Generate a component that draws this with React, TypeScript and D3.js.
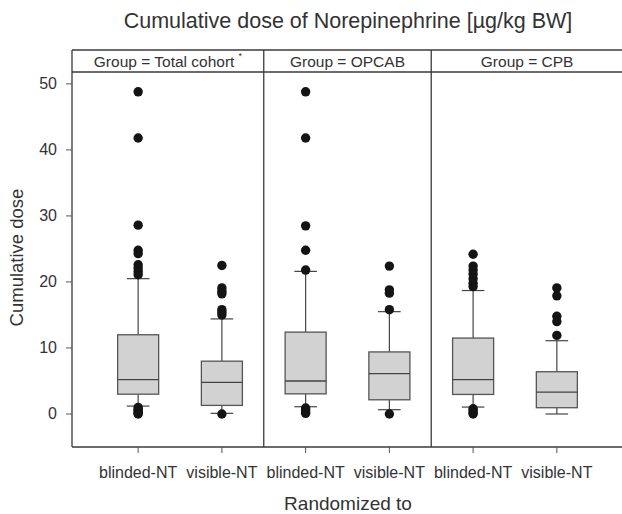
import * as d3 from 'd3'

// panels and arms, in drawing order
const groupNames = ['Total cohort', 'OPCAB', 'CPB']
const arms = ['blinded-NT', 'visible-NT']

// one entry per box: Total/blinded, Total/visible, OPCAB/blinded, OPCAB/visible, CPB/blinded, CPB/visible
const q1 = [3.0, 1.3, 3.05, 2.15, 2.96, 0.95]
const medians = [5.2, 4.8, 5.0, 6.1, 5.2, 3.3]
const q3 = [12.0, 8.0, 12.4, 9.4, 11.5, 6.4]
const whiskerLo = [1.2, 0.1, 1.1, 0.65, 1.05, 0.0]
const whiskerHi = [20.5, 14.4, 21.6, 15.5, 18.7, 11.1]
const outliers = [
  [48.8, 41.8, 28.6, 24.8, 24.3, 22.6, 22.1, 21.6, 21.1, 1.0, 0.7, 0.5, 0.3, 0.1, 0.0],
  [22.5, 19.1, 18.6, 18.2, 15.8, 15.4, 15.0, 0.0],
  [48.8, 41.8, 28.5, 24.8, 21.8, 0.9, 0.6, 0.3, 0.1],
  [22.4, 18.8, 18.3, 15.8, 0.0],
  [24.2, 22.4, 21.8, 21.2, 20.5, 19.8, 19.3, 0.8, 0.5, 0.2, 0.0],
  [19.1, 17.9, 14.8, 14.0, 11.9],
]
const yTicks = [0, 10, 20, 30, 40, 50]

const W = 622
const H = 514
const font = '"Liberation Sans", Arial, sans-serif'
const ink = '#333'

export default function App() {
  const keys = groupNames.flatMap(g => arms.map(a => `${g}|${a}`))
  const left = 72
  const right = 623
  const headTop = 50
  const top = 72
  const bottom = 447

  const x = d3.scalePoint<string>().domain(keys).range([left, right]).padding(0.79)
  const y = d3.scaleLinear().domain([-5, 51.8]).range([bottom, top])
  const step = x.step()
  const boxW = step * 0.49
  const capW = step * 0.27

  const dividers = [1, 3].map(i => ((x(keys[i]) as number) + (x(keys[i + 1]) as number)) / 2)
  const panelEdges = [left, ...dividers, right]

  return (
    <div style={{ position: 'fixed', left: 0, top: 0 }}>
      <svg width={W} height={H} style={{ display: 'block', background: '#fff' }} fontFamily={font}>
        <text x={348} y={28} textAnchor="middle" fontSize={21.5} fill={ink}>
          Cumulative dose of Norepinephrine [µg/kg BW]
        </text>

        {/* header strip */}
        <line x1={left} x2={right} y1={headTop} y2={headTop} stroke="#3a3a3a" strokeWidth={1.3} />
        <line x1={left} x2={right} y1={top} y2={top} stroke="#3a3a3a" strokeWidth={1.3} />
        {groupNames.map((g, i) => {
          const cx = (panelEdges[i] + panelEdges[i + 1]) / 2
          return (
            <text key={g} x={cx} y={67} textAnchor="middle" fontSize={15.5} fill={ink}>
              {`Group = ${g}`}
              {i === 0 && (
                <tspan fontSize={9} dx={4} dy={-8}>*</tspan>
              )}
            </text>
          )
        })}

        {/* frame */}
        <line x1={left} x2={left} y1={headTop} y2={bottom} stroke="#3a3a3a" strokeWidth={1.3} />
        <line x1={left} x2={right} y1={bottom} y2={bottom} stroke="#3a3a3a" strokeWidth={1.3} />
        {dividers.map((d, i) => (
          <line key={i} x1={d} x2={d} y1={headTop} y2={bottom} stroke="#3a3a3a" strokeWidth={1.3} />
        ))}

        {/* y axis */}
        {yTicks.map(t => (
          <g key={t}>
            <line x1={left - 6} x2={left} y1={y(t)} y2={y(t)} stroke="#555" strokeWidth={1} />
            <text x={57} y={y(t) + 5.5} textAnchor="end" fontSize={16} fill={ink}>
              {t}
            </text>
          </g>
        ))}
        <text
          transform={`translate(23,${(top + bottom) / 2 - 2}) rotate(-90)`}
          textAnchor="middle"
          fontSize={18.5}
          fill={ink}
        >
          Cumulative dose
        </text>

        {/* x axis */}
        {keys.map((k, i) => {
          const cx = x(k) as number
          return (
            <g key={k}>
              <line x1={cx} x2={cx} y1={bottom} y2={bottom + 6} stroke="#555" strokeWidth={1} />
              <text x={cx} y={478} textAnchor="middle" fontSize={16} fill={ink}>
                {arms[i % 2]}
              </text>
            </g>
          )
        })}
        <text x={348} y={510} textAnchor="middle" fontSize={19} fill={ink}>
          Randomized to
        </text>

        {/* boxes */}
        {keys.map((k, i) => {
          const cx = x(k) as number
          return (
            <g key={k}>
              <line x1={cx} x2={cx} y1={y(whiskerHi[i])} y2={y(q3[i])} stroke="#444" strokeWidth={1.2} />
              <line x1={cx} x2={cx} y1={y(q1[i])} y2={y(whiskerLo[i])} stroke="#444" strokeWidth={1.2} />
              <line x1={cx - capW / 2} x2={cx + capW / 2} y1={y(whiskerHi[i])} y2={y(whiskerHi[i])} stroke="#444" strokeWidth={1.2} />
              <line x1={cx - capW / 2} x2={cx + capW / 2} y1={y(whiskerLo[i])} y2={y(whiskerLo[i])} stroke="#444" strokeWidth={1.2} />
              <rect
                x={cx - boxW / 2}
                y={y(q3[i])}
                width={boxW}
                height={y(q1[i]) - y(q3[i])}
                fill="#d2d2d2"
                stroke="#555"
                strokeWidth={1.3}
              />
              <line x1={cx - boxW / 2} x2={cx + boxW / 2} y1={y(medians[i])} y2={y(medians[i])} stroke="#444" strokeWidth={1.3} />
              {outliers[i].map((v, j) => (
                <circle key={j} cx={cx} cy={y(v)} r={4.7} fill="#141414" />
              ))}
            </g>
          )
        })}
      </svg>
    </div>
  )
}
